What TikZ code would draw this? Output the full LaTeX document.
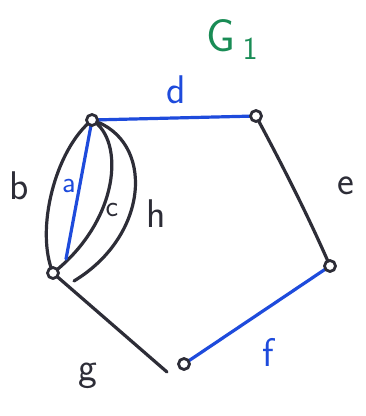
\documentclass[tikz,border=0pt]{standalone}
\begin{document}
\begin{tikzpicture}[x=1pt,y=-1pt,line cap=round,line join=round,
  edgeline/.style={line width=3.2pt,draw=inkgray},
  blueedge/.style={line width=3.2pt,draw=inkblue},
  vert/.style={circle,draw=inkgray,line width=2.8pt,fill=white,minimum size=11pt,inner sep=0pt},
  lbl/.style={font=\fontsize{40}{44}\selectfont\sffamily,inner sep=0pt},
]
\definecolor{inkgray}{RGB}{45,45,55}
\definecolor{inkblue}{RGB}{30,75,220}
\definecolor{inkgreen}{RGB}{25,140,85}
\useasboundingbox[fill=white] (0,0) rectangle (366,416);
\coordinate (A) at (92,120);
\coordinate (B) at (256,116);
\coordinate (C) at (330,266);
\coordinate (D) at (184,364);
\coordinate (E) at (53,273);
\coordinate (aend) at (66,259);
\coordinate (hend) at (74,281);
\coordinate (gend) at (167,372);
% edges
\draw[edgeline] (A) .. controls (55,150) and (35,230) .. (E);
\draw[edgeline] (A) .. controls (125,140) and (120,220) .. (E);
\draw[edgeline] (A) .. controls (155,140) and (150,235) .. (hend);
\draw[blueedge] (A) -- (aend);
\draw[blueedge] (A) -- (B);
\draw[edgeline] (B) .. controls (285,170) and (310,220) .. (C);
\draw[blueedge] (C) -- (D);
\draw[edgeline] (E) -- (gend);
% vertices
\node[vert] (vA) at (A) {};
\node[vert] (vB) at (B) {};
\node[vert] (vC) at (C) {};
\node[vert] (vD) at (D) {};
\node[vert] (vE) at (E) {};
% labels
\node[lbl,text=inkgreen,font=\fontsize{46}{50}\selectfont\sffamily] (G) at (232,40) {G\,\raisebox{-8pt}{\fontsize{32}{34}\selectfont 1}};
\node[lbl,text=inkblue] (ld) at (176,90) {d};
\node[lbl,text=inkgray] (le) at (346,186) {e};
\node[lbl,text=inkblue] (lf) at (268,352) {f};
\node[lbl,text=inkgray] (lg) at (88,376) {g};
\node[lbl,text=inkgray] (lh) at (156,214) {h};
\node[lbl,text=inkgray] (lb) at (19,186) {b};
\node[lbl,text=inkblue,font=\fontsize{30}{34}\selectfont\sffamily] (la) at (69,186) {a};
\node[lbl,text=inkgray,font=\fontsize{30}{34}\selectfont\sffamily] (lc) at (112,210) {c};
\end{tikzpicture}
\end{document}
